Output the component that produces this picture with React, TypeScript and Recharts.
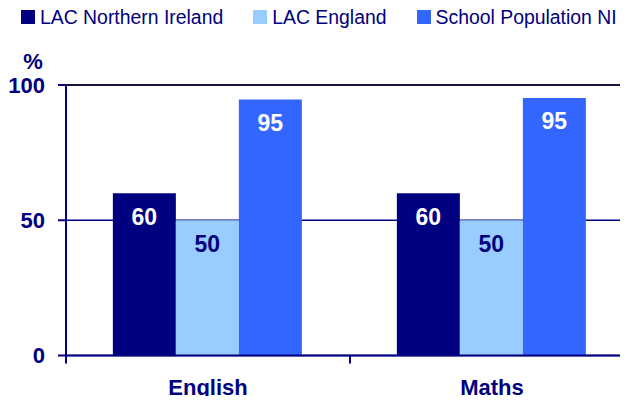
import React from "react";
import {
  BarChart,
  Bar,
  XAxis,
  YAxis,
  CartesianGrid,
  ReferenceLine,
  Legend,
  LabelList,
  Label,
} from "recharts";

const categories = ["English", "Maths"];
const lacNorthernIreland = [60, 60];
const lacEngland = [50, 50];
const schoolPopulationNI = [94.6, 95.2];
const yTicks = [0, 50, 100];

const NAVY = "#000080";
const LIGHT = "#99ccff";
const BLUE = "#3366ff";
const FONT = "Arial, 'Liberation Sans', sans-serif";

const seriesInfo = [
  { key: "ni", name: "LAC Northern Ireland", color: NAVY, label: "#ffffff" },
  { key: "eng", name: "LAC England", color: LIGHT, label: NAVY },
  { key: "school", name: "School Population NI", color: BLUE, label: "#ffffff" },
];

const data = categories.map((subject, i) => ({
  subject,
  ni: lacNorthernIreland[i],
  eng: lacEngland[i],
  school: schoolPopulationNI[i],
}));

function TopLegend() {
  return (
    <div
      style={{
        height: 34,
        display: "flex",
        alignItems: "flex-start",
        paddingLeft: 21,
        paddingTop: 8,
        boxSizing: "border-box",
        fontFamily: FONT,
        fontSize: 19.4,
        color: NAVY,
      }}
    >
      {seriesInfo.map((s) => (
        <div
          key={s.key}
          style={{ display: "flex", alignItems: "center", marginRight: 30, whiteSpace: "nowrap" }}
        >
          <span style={{ width: 14, height: 14, background: s.color, marginRight: 5 }} />
          <span style={{ lineHeight: "18px" }}>{s.name}</span>
        </div>
      ))}
    </div>
  );
}

// category label plus a tick mark at the left edge of each band
function SubjectTick(props: any) {
  const { x, y, payload } = props;
  const half = payload && payload.offset ? payload.offset : 0;
  return (
    <g>
      <line x1={x - half} x2={x - half} y1={y} y2={y + 8} stroke={NAVY} strokeWidth={2} />
      <text
        x={x}
        y={y + 39}
        textAnchor="middle"
        fill={NAVY}
        fontSize={22}
        fontWeight="bold"
        fontFamily={FONT}
      >
        {payload.value}
      </text>
    </g>
  );
}

export default function App() {
  return (
    <div style={{ margin: -8, width: 628, height: 404, overflow: "hidden", background: "#fff" }}>
      <BarChart
        width={640}
        height={404}
        data={data}
        margin={{ top: 51, right: 6, bottom: 0, left: 0 }}
        barCategoryGap="16.5%"
        barGap={0}
        style={{ fontFamily: FONT }}
      >
        <Legend
          verticalAlign="top"
          align="left"
          height={34}
          wrapperStyle={{ top: 0, left: 0 }}
          content={() => <TopLegend />}
        />
        <CartesianGrid vertical={false} stroke={NAVY} strokeWidth={1.5} />
        <ReferenceLine y={100} stroke="#14143c" strokeWidth={2} />
        <XAxis
          dataKey="subject"
          height={48.5}
          axisLine={{ stroke: NAVY, strokeWidth: 2 }}
          tickLine={false}
          tickSize={0}
          tickMargin={0}
          tick={<SubjectTick />}
          interval={0}
        />
        <YAxis
          width={66}
          domain={[0, 100]}
          ticks={yTicks}
          axisLine={{ stroke: NAVY, strokeWidth: 2 }}
          tickLine={{ stroke: NAVY, strokeWidth: 2 }}
          tickSize={8}
          tickMargin={13}
          tick={{ fill: NAVY, fontSize: 22, fontWeight: "bold", fontFamily: FONT }}
        >
          <Label
            value="%"
            position="top"
            offset={16}
            fill={NAVY}
            fontSize={22}
            fontWeight="bold"
            fontFamily={FONT}
          />
        </YAxis>
        {seriesInfo.map((s) => (
          <Bar key={s.key} dataKey={s.key} name={s.name} fill={s.color} isAnimationActive={false}>
            <LabelList
              dataKey={s.key}
              position="insideTop"
              offset={15}
              fill={s.label}
              fontSize={23}
              fontWeight="bold"
              fontFamily={FONT}
              formatter={(v: any) => Math.round(Number(v))}
            />
          </Bar>
        ))}
      </BarChart>
    </div>
  );
}
